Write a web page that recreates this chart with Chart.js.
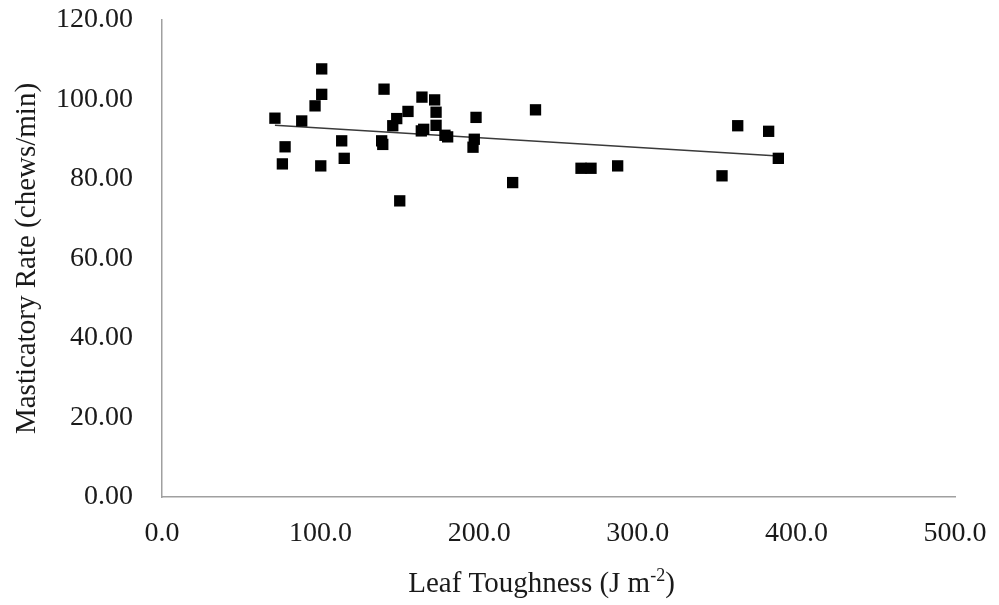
<!DOCTYPE html>
<html>
<head>
<meta charset="utf-8">
<script src="https://cdn.jsdelivr.net/npm/chart.js@4/dist/chart.umd.min.js"></script>
<style>
  html, body { margin: 0; padding: 0; background: #ffffff; }
  #wrap { width: 999px; height: 605px; position: relative; }
</style>
</head>
<body>
<div id="wrap"><canvas id="chewChart"></canvas></div>
<script>
// leaf toughness (J m-2) for each observation
const toughness = [71.2, 77.6, 75.9, 88.1, 96.5, 100.7, 100.7, 100.1, 113.3, 114.9,
  138.5, 139.2, 140.0, 145.5, 148.0, 155.1, 149.9, 163.9, 163.5, 165.0,
  171.9, 172.8, 172.8, 178.4, 180.1, 198.0, 196.9, 196.1, 221.1, 235.5,
  264.2, 270.5, 287.3, 353.1, 363.0, 382.5, 388.6];
// masticatory rate (chews/min) for each observation
const chewRate = [95.3, 88.1, 83.8, 94.6, 98.4, 101.3, 107.7, 83.3, 89.6, 85.2,
  89.6, 88.7, 102.6, 93.4, 95.2, 97.0, 74.5, 100.6, 92.1, 92.5,
  99.9, 96.8, 93.5, 91.0, 90.6, 95.5, 90.0, 88.0, 79.1, 97.4,
  82.7, 82.7, 83.3, 80.8, 93.4, 92.0, 85.2];

// linear trendline ends
const trendX = [71.2, 388.6];
const trendY = [93.5, 85.8];

const xTicks = [0, 100, 200, 300, 400, 500];
const yTicks = [0, 20, 40, 60, 80, 100, 120];

const serif = "'Liberation Serif', 'Times New Roman', serif";
const inkColor = '#1a1a1a';
const axisGray = '#a0a0a0';

// x title needs a superscript, so draw it by hand
const xTitlePlugin = {
  id: 'xTitle',
  afterDraw(chart) {
    const ctx = chart.ctx;
    const area = chart.chartArea;
    const main = 'Leaf Toughness (J m';
    const sup = '-2';
    const tail = ')';
    ctx.save();
    ctx.fillStyle = inkColor;
    ctx.textBaseline = 'alphabetic';
    ctx.font = '29px ' + serif;
    const wMain = ctx.measureText(main).width;
    const wTail = ctx.measureText(tail).width;
    ctx.font = '18px ' + serif;
    const wSup = ctx.measureText(sup).width;
    const total = wMain + wSup + wTail;
    let x = (area.left + area.right) / 2 - 17 - total / 2;
    const base = 592;
    ctx.font = '29px ' + serif;
    ctx.fillText(main, x, base);
    x += wMain;
    ctx.font = '18px ' + serif;
    ctx.fillText(sup, x, base - 11);
    x += wSup;
    ctx.font = '29px ' + serif;
    ctx.fillText(tail, x, base);
    ctx.restore();
  }
};

const ctx = document.getElementById('chewChart').getContext('2d');

new Chart(ctx, {
  type: 'scatter',
  data: {
    datasets: [{
      label: 'Masticatory rate',
      data: toughness.map((t, i) => ({ x: t, y: chewRate[i] })),
      pointStyle: 'rect',
      pointRadius: 8,
      pointHoverRadius: 8,
      backgroundColor: '#000000',
      borderColor: '#000000',
      borderWidth: 0,
      order: 0
    }, {
      type: 'line',
      label: 'Linear trend',
      data: trendX.map((t, i) => ({ x: t, y: trendY[i] })),
      borderColor: '#3a3a3a',
      borderWidth: 1.5,
      pointRadius: 0,
      fill: false,
      order: 1
    }]
  },
  options: {
    responsive: true,
    maintainAspectRatio: false,
    animation: false,
    layout: {
      padding: { top: 20, right: 44, bottom: 0, left: 0 }
    },
    plugins: {
      legend: { display: false },
      tooltip: { enabled: false }
    },
    scales: {
      x: {
        type: 'linear',
        min: 0,
        max: 500,
        afterBuildTicks(scale) { scale.ticks = xTicks.map(v => ({ value: v })); },
        afterFit(scale) {
          scale.height = 108;
          scale.paddingLeft = 0;
          scale.paddingRight = 0;
        },
        grid: { display: false, drawTicks: false },
        border: { display: true, color: axisGray, width: 1.5 },
        ticks: {
          color: inkColor,
          padding: 20,
          font: { family: serif, size: 28 },
          callback: v => v.toFixed(1)
        }
      },
      y: {
        min: 0,
        max: 120,
        afterBuildTicks(scale) { scale.ticks = yTicks.map(v => ({ value: v })); },
        afterFit(scale) {
          scale.width = 162;
          scale.paddingTop = 0;
          scale.paddingBottom = 0;
        },
        grid: { display: false, drawTicks: false },
        border: { display: true, color: axisGray, width: 1.5 },
        title: {
          display: true,
          text: 'Masticatory Rate (chews/min)',
          color: inkColor,
          font: { family: serif, size: 29 },
          padding: { top: 10, bottom: 0 }
        },
        ticks: {
          color: inkColor,
          padding: 29,
          font: { family: serif, size: 28 },
          callback: v => v.toFixed(2)
        }
      }
    }
  },
  plugins: [xTitlePlugin]
});
</script>
</body>
</html>
